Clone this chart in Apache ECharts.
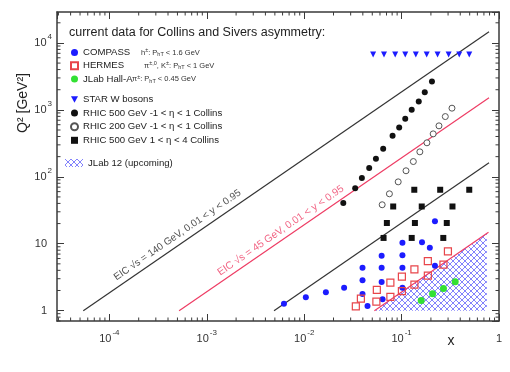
<!DOCTYPE html>
<html><head><meta charset="utf-8">
<script src="https://cdn.jsdelivr.net/npm/echarts@6/dist/echarts.min.js"></script>
<style>html,body{margin:0;padding:0;background:#fff}#c{width:510px;height:372px}</style>
</head><body><div id="c"></div>
<script>
// ---------- data ----------
const XMIN = 2.9e-5, XMAX = 1, YMIN = 0.7, YMAX = 2.9e4;
const xTickLabels = ['10^-4', '10^-3', '10^-2', '10^-1', '1'];
const yTickLabels = ['1', '10', '10^2', '10^3', '10^4'];

const compass = [[0.0062,1.27],[0.0104,1.58],[0.0167,1.88],[0.0257,2.2],[0.0397,4.38],[0.0397,2.85],[0.0397,1.77],[0.0447,1.17],
  [0.0624,6.62],[0.0624,4.38],[0.0624,2.68],[0.0638,1.48],[0.102,10.3],[0.102,6.73],[0.102,4.38],[0.102,2.2],
  [0.162,10.5],[0.195,8.71],[0.22,21.7],[0.22,4.7]];
const hermes = [[0.0339,1.16],[0.0382,1.51],[0.0557,2.04],[0.0551,1.36],[0.0767,2.62],[0.0767,1.6],[0.1007,3.22],[0.1007,1.95],
  [0.1354,4.13],[0.1354,2.44],[0.186,5.48],[0.186,3.33],[0.269,4.86],[0.299,7.67]];
const jlabHallA = [[0.159,1.42],[0.208,1.78],[0.269,2.15],[0.355,2.69]];
const starW = [[0.051,6700],[0.066,6700],[0.086,6700],[0.109,6700],[0.140,6700],[0.181,6700],[0.234,6700],[0.304,6700],[0.391,6700],[0.495,6700]];
const rhic500 = [[0.205,2645],[0.173,1835],[0.150,1330],[0.127,1000],[0.109,734],[0.0945,545],[0.0808,409],[0.0647,262],
  [0.0545,186],[0.0465,135],[0.0391,95.6],[0.0334,67.4],[0.0252,40.5]];
const rhic200 = [[0.329,1060],[0.281,794],[0.242,577],[0.211,438],[0.182,322],[0.154,236],[0.132,169],[0.111,123],[0.0923,84],[0.075,55.7],[0.0632,38.2]];
const rhic500fwd = [[0.135,64],[0.249,64],[0.495,64],[0.082,36],[0.161,36],[0.333,36],[0.0706,20.4],[0.137,20.4],[0.291,20.4],
  [0.0653,12.2],[0.127,12.2],[0.268,12.2]];
const eic140Line = [[5.4e-5,1],[0.79,14700]];
const eic45Line = [[5.2e-4,1],[0.79,1520]];
const lowLine = [[0.0049,1],[0.79,162]];
const jlabLine = [[0.0526,1],[0.78,14.8]];
const jlab12Region = [[0.0526,1],[0.75,14.25],[0.75,1]];

const legendNames = ['COMPASS','HERMES','JLab Hall-A','STAR W bosons','RHIC 500 GeV -1 < η < 1 Collins','RHIC 200 GeV -1 < η < 1 Collins','RHIC 500 GeV 1 < η < 4 Collins','JLab 12 (upcoming)'];
const eic140Text = 'EIC √s = 140 GeV, 0.01 < y < 0.95';
const eic45Text = 'EIC √s = 45 GeV, 0.01 < y < 0.95';

// ---------- styling ----------
const FONT = 'Liberation Sans';
const AX = '#3a3a3a';
const RED = '#ee3c64';
const BLUE = '#1c1cff';

function hatchCanvas(){
  const c = document.createElement('canvas'); c.width = 6; c.height = 6;
  const g = c.getContext('2d');
  g.strokeStyle = 'rgba(60,60,250,0.8)'; g.lineWidth = 0.8;
  g.beginPath(); g.moveTo(0,0); g.lineTo(6,6); g.moveTo(6,0); g.lineTo(0,6); g.stroke();
  return c;
}
const hatch = {image: hatchCanvas(), repeat: 'repeat'};

function isPow(v){ const l = Math.log10(v); return Math.abs(l - Math.round(l)) < 1e-6; }
function labelFor(list, v){
  const e = Math.round(Math.log10(v));
  return list.find(t => (t === '1' && e === 0) || (t === '10' && e === 1) || t === '10^' + e);
}
function xFmt(v){
  if (!isPow(v)) return '';
  const s = labelFor(xTickLabels, v); if (!s) return '';
  if (s.indexOf('^') < 0) return '{b|' + s + '}';
  const p = s.split('^'); return '{b|' + p[0] + '}{sup|' + p[1] + '}';
}
function yFmt(v){
  if (!isPow(v)) return '';
  const s = labelFor(yTickLabels, v); if (!s) return '';
  if (s.indexOf('^') < 0) return '{b|' + s + '}{pad|}';
  const p = s.split('^'); return '{b|' + p[0] + '}{sup|' + p[1] + '}';
}
const axRich = {
  b: {fontFamily: FONT, fontSize: 11, lineHeight: 20, color: '#333'},
  sup: {fontFamily: FONT, fontSize: 8, lineHeight: 11, verticalAlign: 'top', color: '#333', padding: [0,0,0,1]},
  pad: {width: 5}
};

function minors(lo, hi){
  const out = [];
  for (let e = Math.floor(Math.log10(lo)); e <= Math.ceil(Math.log10(hi)); e++)
    for (let k = 2; k <= 9; k++){ const v = k * Math.pow(10, e); if (v > lo && v < hi) out.push(v); }
  return out;
}
const MINOR = 3.5;

const legendFmt = {
  'COMPASS': '{n1|COMPASS}{d|h}{u|±}{d|: P}{s|hT}{d| < 1.6 GeV}',
  'HERMES': '{n2|HERMES}{d|π}{u|±,0}{d|, K}{u|±}{d|: P}{s|hT}{d| < 1 GeV}',
  'JLab Hall-A': '{n3|JLab Hall-A}{d|π}{u|±}{d|: P}{s|hT}{d| < 0.45 GeV}'
};
const LF = 9.6;
const legRich = {
  n1: {fontFamily: FONT, fontSize: LF, lineHeight: 10, width: 58, color: '#222'},
  n2: {fontFamily: FONT, fontSize: LF, lineHeight: 10, width: 61, color: '#222'},
  n3: {fontFamily: FONT, fontSize: LF, lineHeight: 10, width: 49, color: '#222'},
  n: {fontFamily: FONT, fontSize: LF, lineHeight: 10, color: '#222'},
  d: {fontFamily: FONT, fontSize: 7.5, lineHeight: 10, color: '#333'},
  u: {fontFamily: FONT, fontSize: 5.5, lineHeight: 6, verticalAlign: 'top', color: '#333'},
  s: {fontFamily: FONT, fontSize: 5.5, lineHeight: 6, verticalAlign: 'bottom', color: '#333'}
};
function legText(name){ return legendFmt[name] || ('{n|' + name + '}'); }
const downTri = 'path://M0,0 L10,0 L5,9 Z';

function lineSeries(data, color, w){
  return {type: 'line', data: data, symbol: 'none', silent: true,
    lineStyle: {color: color, width: w || 1.2}, z: 3, animation: false};
}
function lineAnchor(line, x, lift){
  const [a, b] = line;
  const t = (Math.log10(x) - Math.log10(a[0])) / (Math.log10(b[0]) - Math.log10(a[0]));
  const ly = Math.log10(a[1]) + t * (Math.log10(b[1]) - Math.log10(a[1]));
  return [x, Math.pow(10, ly) * lift];
}
function textSeries(pt, text, color, fs){
  return {type: 'scatter', data: [pt], symbolSize: 0, silent: true, z: 4,
    label: {show: true, position: 'inside', rotate: 34.6, formatter: text,
      fontFamily: FONT, fontSize: fs, color: color}};
}

const chart = echarts.init(document.getElementById('c'), null, {renderer: 'canvas'});
const legendBase = {orient: 'vertical', itemWidth: 7, itemHeight: 7, formatter: legText,
  textStyle: {rich: legRich}, selectedMode: false, padding: 0};
const option = {
  animation: false,
  backgroundColor: '#fff',
  title: {text: 'current data for Collins and Sivers asymmetry:', left: 64, top: 21,
    textStyle: {fontFamily: FONT, fontSize: 12.5, fontWeight: 'normal', color: '#222'}},
  grid: {left: 57, right: 11, top: 12, bottom: 51},
  xAxis: [
    {type: 'log', min: XMIN, max: XMAX, position: 'bottom',
      axisLine: {show: true, lineStyle: {color: AX, width: 1.5}},
      axisTick: {show: true, inside: true, length: 7, lineStyle: {color: AX}},
      axisLabel: {formatter: xFmt, rich: axRich, margin: 8, showMinLabel: false},
      splitLine: {show: false}},
    {type: 'log', min: XMIN, max: XMAX, position: 'top',
      axisLine: {show: true, lineStyle: {color: AX, width: 1.5}},
      axisTick: {show: true, inside: true, length: 7, lineStyle: {color: AX}},
      axisLabel: {show: false}, splitLine: {show: false}}
  ],
  yAxis: [
    {type: 'log', min: YMIN, max: YMAX, position: 'left',
      axisLine: {show: true, lineStyle: {color: AX, width: 1.5}},
      axisTick: {show: true, inside: true, length: 7, lineStyle: {color: AX}},
      axisLabel: {formatter: yFmt, rich: axRich, margin: 5, showMinLabel: false, showMaxLabel: false},
      splitLine: {show: false}},
    {type: 'log', min: YMIN, max: YMAX, position: 'right',
      axisLine: {show: true, lineStyle: {color: AX, width: 1.5}},
      axisTick: {show: true, inside: true, length: 7, lineStyle: {color: AX}},
      axisLabel: {show: false}, splitLine: {show: false}}
  ],
  legend: [
    Object.assign({}, legendBase, {left: 70, top: 47.5, itemGap: 3.3, data: legendNames.slice(0, 3)}),
    Object.assign({}, legendBase, {left: 70, top: 94.5, itemGap: 3.6,
      data: [{name: legendNames[3], icon: downTri}, legendNames[4], legendNames[5], legendNames[6]]}),
    Object.assign({}, legendBase, {left: 65, top: 158, itemWidth: 18, itemHeight: 8,
      data: [{name: legendNames[7], icon: 'rect', itemStyle: {color: hatch}}]})
  ],
  graphic: [
    {type: 'text', x: 23, y: 103, rotation: Math.PI / 2,
      style: {text: 'Q² [GeV²]', font: '14px "Liberation Sans"', fill: '#222', align: 'center', verticalAlign: 'middle'}},
    {type: 'text', x: 451, y: 341,
      style: {text: 'x', font: '14px "Liberation Sans"', fill: '#222', align: 'center', verticalAlign: 'middle'}}
  ],
  series: [
    {type: 'custom', name: legendNames[7], silent: true, z: 1,
      itemStyle: {color: hatch},
      data: [jlab12Region[0]],
      renderItem: function(params, api){
        const pts = jlab12Region.map(p => api.coord(p));
        return {type: 'polygon', shape: {points: pts}, style: {fill: hatch, stroke: null}};
      }},
    {type: 'custom', silent: true, z: 5, data: minors(XMIN, XMAX).map(v => [v, YMIN]),
      renderItem: function(params, api){
        const v = api.value(0);
        const b = api.coord([v, YMIN]), t = api.coord([v, YMAX]);
        return {type: 'group', children: [
          {type: 'line', shape: {x1: b[0], y1: b[1], x2: b[0], y2: b[1] - MINOR}, style: {stroke: AX, lineWidth: 1}},
          {type: 'line', shape: {x1: t[0], y1: t[1], x2: t[0], y2: t[1] + MINOR}, style: {stroke: AX, lineWidth: 1}}]};
      }},
    {type: 'custom', silent: true, z: 5, data: minors(YMIN, YMAX).map(v => [XMIN, v]),
      renderItem: function(params, api){
        const v = api.value(1);
        const l = api.coord([XMIN, v]), r = api.coord([XMAX, v]);
        return {type: 'group', children: [
          {type: 'line', shape: {x1: l[0], y1: l[1], x2: l[0] + MINOR, y2: l[1]}, style: {stroke: AX, lineWidth: 1}},
          {type: 'line', shape: {x1: r[0], y1: r[1], x2: r[0] - MINOR, y2: r[1]}, style: {stroke: AX, lineWidth: 1}}]};
      }},
    lineSeries(eic140Line, '#333', 1.2),
    lineSeries(eic45Line, RED, 1.2),
    lineSeries(lowLine, '#333', 1.2),
    lineSeries(jlabLine, RED, 1.2),
    textSeries(lineAnchor(eic140Line, 5.0e-4, 1.45), eic140Text, '#222', 10),
    textSeries(lineAnchor(eic45Line, 5.75e-3, 1.42), eic45Text, RED, 10.3),
    {type: 'scatter', name: legendNames[0], data: compass, symbol: 'circle', symbolSize: 6, z: 6,
      itemStyle: {color: BLUE, opacity: 1}},
    {type: 'scatter', name: legendNames[1], data: hermes, symbol: 'rect', symbolSize: 7, z: 6,
      itemStyle: {color: 'rgba(255,255,255,0)', borderColor: '#e8454a', borderWidth: 1.2, opacity: 1}},
    {type: 'scatter', name: legendNames[2], data: jlabHallA, symbol: 'circle', symbolSize: 7, z: 6,
      itemStyle: {color: '#33e033', opacity: 1}},
    {type: 'scatter', name: legendNames[3], data: starW, symbol: 'triangle', symbolRotate: 180, symbolSize: 6, z: 6,
      itemStyle: {color: BLUE, opacity: 1}},
    {type: 'scatter', name: legendNames[4], data: rhic500, symbol: 'circle', symbolSize: 6, z: 6,
      itemStyle: {color: '#111', opacity: 1}},
    {type: 'scatter', name: legendNames[5], data: rhic200, symbol: 'circle', symbolSize: 6, z: 6,
      itemStyle: {color: '#fff', borderColor: '#555', borderWidth: 1, opacity: 1}},
    {type: 'scatter', name: legendNames[6], data: rhic500fwd, symbol: 'rect', symbolSize: 6, z: 6,
      itemStyle: {color: '#111', opacity: 1}}
  ]
};
chart.setOption(option);
</script>
</body></html>
